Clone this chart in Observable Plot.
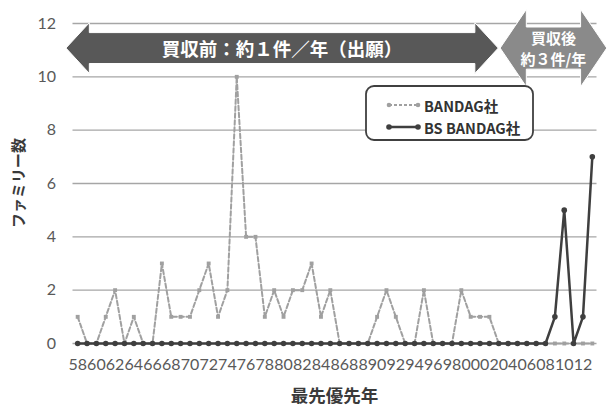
<!DOCTYPE html>
<html><head><meta charset="utf-8">
<script src="https://cdn.jsdelivr.net/npm/d3@7"></script>
<script src="https://cdn.jsdelivr.net/npm/@observablehq/plot@0.6"></script>
<style>
body{margin:0;background:#fff;}
#chart svg{display:block;}
</style>
</head><body><div id="chart"></div>
<script>
// ---- data ----
const years = [1958,1959,1960,1961,1962,1963,1964,1965,1966,1967,
  1968,1969,1970,1971,1972,1973,1974,1975,1976,1977,
  1978,1979,1980,1981,1982,1983,1984,1985,1986,1987,
  1988,1989,1990,1991,1992,1993,1994,1995,1996,1997,
  1998,1999,2000,2001,2002,2003,2004,2005,2006,2007,
  2008,2009,2010,2011,2012,2013];
const bandag = [1,0,0,1,2,0,1,0,0,3,
  1,1,1,2,3,1,2,10,4,4,
  1,2,1,2,2,3,1,2,0,0,
  0,0,1,2,1,0,0,2,0,0,
  0,2,1,1,1,0,0,0,0,0,
  0,0,0,0,0,0];
const bsBandag = [0,0,0,0,0,0,0,0,0,0,
  0,0,0,0,0,0,0,0,0,0,
  0,0,0,0,0,0,0,0,0,0,
  0,0,0,0,0,0,0,0,0,0,
  0,0,0,0,0,0,0,0,0,0,
  0,1,5,0,1,7];
const seriesNames = ["BANDAG社", "BS BANDAG社"];
const xTickYears = [1958,1960,1962,1964,1966,1968,1970,1972,1974,1976,1978,1980,1982,1984,
  1986,1988,1990,1992,1994,1996,1998,2000,2002,2004,2006,2008,2010,2012];
const xTickLabels = ["58","60","62","64","66","68","70","72","74","76","78","80","82","84",
  "86","88","90","92","94","96","98","00","02","04","06","08","10","12"];
const yTicks = [0,2,4,6,8,10,12];
const arrowLabels = [["買収前：約１件／年（出願）"], ["買収後", "約３件/年"]];
const xTitle = "最先優先年";
const yTitle = "ファミリー数";

// ---- table ----
const table = years.map((yr, i) => ({year: yr, bandag: bandag[i], bs: bsBandag[i]}));

// ---- annotation geometry (data units) ----
const arrowGeom = [
  {from: 1956.8, to: 2003.0, cy: 11.06, head: 0.95, shaft: 0.58, headLen: 2.5, fill: "#585858", fs: 18.5},
  {from: 2003.2, to: 2014.6, cy: 11.06, head: 1.45, shaft: 0.79, headLen: 2.8, fill: "#8a8a8a", fs: 15}
];

const CJK = "'Noto Sans CJK JP', 'Noto Sans', sans-serif";

function annotations(index, scales) {
  const x = scales.x, y = scales.y;
  const step = x(years[1]) - x(years[0]);
  const fx = v => x(years[0]) + (v - years[0]) * step;
  const g = d3.create("svg:g").attr("text-anchor", "start");
  arrowGeom.forEach((a, k) => {
    const x0 = fx(a.from), x1 = fx(a.to), hl = a.headLen * step;
    const cy = y(a.cy), hh = y(0) - y(a.head), sh = y(0) - y(a.shaft);
    const p = [[x0, cy], [x0 + hl, cy - hh], [x0 + hl, cy - sh], [x1 - hl, cy - sh], [x1 - hl, cy - hh],
      [x1, cy], [x1 - hl, cy + hh], [x1 - hl, cy + sh], [x0 + hl, cy + sh], [x0 + hl, cy + hh]];
    g.append("path").attr("d", "M" + p.join("L") + "Z")
      .attr("fill", a.fill).attr("stroke", "#fff").attr("stroke-width", 1);
    const lines = arrowLabels[k];
    const cx = (x0 + x1) / 2;
    const lh = a.fs * 1.45;
    lines.forEach((t, j) => {
      g.append("text").attr("x", cx).attr("y", cy + (j - (lines.length - 1) / 2) * lh)
        .attr("text-anchor", "middle").attr("dominant-baseline", "central")
        .attr("fill", "#fff").attr("font-weight", "bold").attr("font-size", a.fs)
        .attr("font-family", CJK).text(t);
    });
  });
  // legend
  const lg = g.append("g");
  lg.append("rect").attr("x", 366).attr("y", 86).attr("width", 167).attr("height", 54)
    .attr("rx", 8).attr("fill", "#fff").attr("stroke", "#404040").attr("stroke-width", 1.8);
  const sty = [
    {stroke: "#a0a0a0", dash: "3,2", w: 2, r: 2.3},
    {stroke: "#3f3f3f", dash: null, w: 2.5, r: 2.8}
  ];
  seriesNames.forEach((name, j) => {
    const ly = 105 + j * 22;
    const s = sty[j];
    const ln = lg.append("line").attr("x1", 389).attr("x2", 418).attr("y1", ly).attr("y2", ly)
      .attr("stroke", s.stroke).attr("stroke-width", s.w);
    if (s.dash) ln.attr("stroke-dasharray", s.dash);
    [389, 418].forEach(cx => lg.append("circle").attr("cx", cx).attr("cy", ly).attr("r", s.r).attr("fill", s.stroke));
    lg.append("text").attr("x", 424).attr("y", ly).attr("text-anchor", "start").attr("dominant-baseline", "central")
      .attr("font-family", CJK).attr("font-weight", "bold").attr("font-size", 14.5)
      .attr("fill", "#333").text(name);
  });
  // axis titles
  const x0 = x(years[0]) - step / 2, x1 = x(years[years.length - 1]) + step / 2;
  g.append("text").attr("x", (x0 + x1) / 2).attr("y", 394).attr("text-anchor", "middle")
    .attr("dominant-baseline", "central").attr("font-family", CJK).attr("font-weight", "bold")
    .attr("font-size", 17.5).attr("fill", "#3a3a3a").text(xTitle);
  g.append("text").attr("transform", `translate(17,${(y(0) + y(12)) / 2}) rotate(-90)`)
    .attr("text-anchor", "middle").attr("dominant-baseline", "central").attr("font-family", CJK)
    .attr("font-weight", "bold").attr("font-size", 15).attr("fill", "#3a3a3a").text(yTitle);
  return g.node();
}

const chart = Plot.plot({
  width: 608,
  height: 407,
  marginLeft: 72.5,
  marginRight: 11.5,
  marginTop: 23,
  marginBottom: 64,
  style: {fontFamily: "Lato, 'Open Sans', sans-serif", fontSize: "16px", color: "#595959", background: "#fff"},
  x: {type: "point", domain: years, padding: 0.5, round: false, ticks: xTickYears,
      tickFormat: d => xTickLabels[xTickYears.indexOf(d)], tickSize: 0, tickPadding: 15, label: null},
  y: {domain: [0, 12], ticks: yTicks, tickSize: 0, tickPadding: 17, label: null},
  marks: [
    Plot.ruleY(yTicks, {stroke: "#a6a6a6", strokeWidth: 1.4}),
    Plot.line(table, {x: "year", y: "bandag", stroke: "#a0a0a0", strokeWidth: 2, strokeDasharray: "4.5,2.5"}),
    Plot.dot(table, {x: "year", y: "bandag", fill: "#a0a0a0", r: 2.2, symbol: "square"}),
    Plot.line(table, {x: "year", y: "bs", stroke: "#3f3f3f", strokeWidth: 2.5}),
    Plot.dot(table, {x: "year", y: "bs", fill: "#3f3f3f", r: 2.8}),
    annotations
  ]
});
document.getElementById("chart").appendChild(chart);
</script>
</body></html>
